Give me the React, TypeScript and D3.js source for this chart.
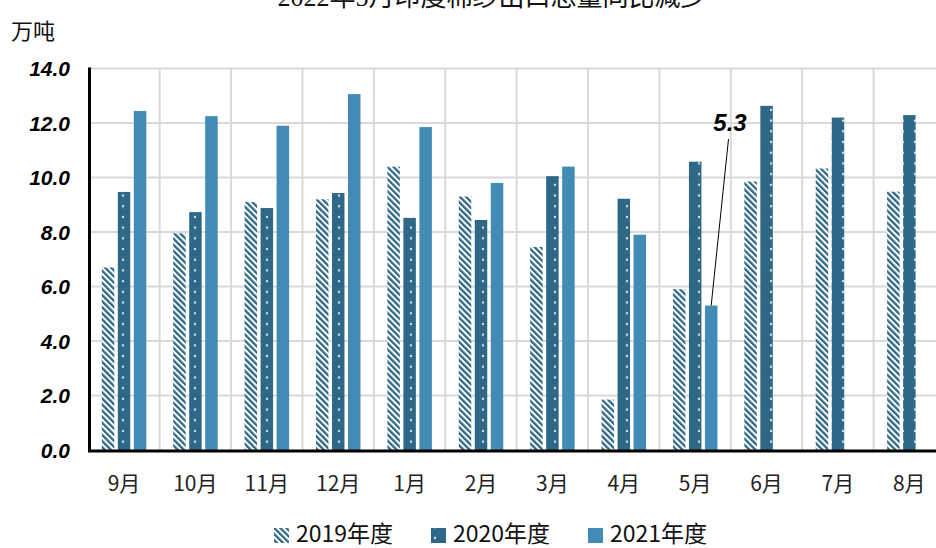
import React from "react";
import * as d3 from "d3";

const months = ["9月", "10月", "11月", "12月", "1月", "2月", "3月", "4月", "5月", "6月", "7月", "8月"];
const seriesNames = ["2019年度", "2020年度", "2021年度"];
const v2019 = [6.7, 7.95, 9.1, 9.2, 10.4, 9.3, 7.45, 1.85, 5.9, 9.85, 10.33, 9.48];
const v2020 = [9.47, 8.73, 8.88, 9.43, 8.52, 8.44, 10.05, 9.22, 10.58, 12.63, 12.2, 12.29];
const v2021: (number | null)[] = [12.44, 12.25, 11.9, 13.06, 11.85, 9.8, 10.4, 7.9, 5.3, null, null, null];
const yTicks = [0, 2, 4, 6, 8, 10, 12, 14];

const W = 936;
const H = 548;
const C2020 = "#2f6887";
const C2021 = "#428bb4";

export default function App() {
  const x = d3.scaleBand<string>().domain(months).range([88.3, 945]);
  const inner = d3
    .scaleBand<string>()
    .domain(seriesNames)
    .range([13.5, 58])
    .paddingInner(0.22);
  const y = d3.scaleLinear().domain([0, 14]).range([450, 68.5]);

  const fills = ["url(#hatch)", "url(#dots)", C2021];
  const all = [v2019, v2020, v2021];

  const labelIdx = 8;
  const lblX = (x(months[labelIdx]) ?? 0) + (inner(seriesNames[2]) ?? 0) + inner.bandwidth() / 2;

  return (
    <svg
      width={W}
      height={H}
      style={{ position: "absolute", left: 0, top: 0, background: "#fff" }}
    >
      <defs>
        <pattern id="hatch" patternUnits="userSpaceOnUse" width={4.3} height={4.3} patternTransform="rotate(-45)">
          <rect width={4.3} height={4.3} fill="#fff" />
          <rect width={2.3} height={4.3} fill={C2020} />
        </pattern>
        <pattern id="dots" patternUnits="userSpaceOnUse" width={12} height={10.7}>
          <rect width={12} height={10.7} fill={C2020} />
          <circle cx={3} cy={3} r={1.2} fill="#d5e2ea" />
        </pattern>
      </defs>

      <text
        x={492}
        y={6}
        textAnchor="middle"
        style={{ fontFamily: "'Liberation Serif', 'Noto Sans CJK SC', serif", fontSize: 26, fill: "#111" }}
      >
        2022年5月印度棉纱出口总量同比减少
      </text>

      <text
        x={11}
        y={39}
        style={{ fontFamily: "'Noto Sans CJK SC', sans-serif", fontSize: 22, fill: "#111" }}
      >
        万吨
      </text>

      {/* grid */}
      <g stroke="#d9d9d9" strokeWidth={2}>
        {yTicks.slice(1).map((t) => (
          <line key={t} x1={88} x2={W} y1={y(t)} y2={y(t)} />
        ))}
        {months.slice(1).map((m) => (
          <line key={m} x1={x(m)} x2={x(m)} y1={y(14)} y2={y(0)} />
        ))}
      </g>

      {/* bars */}
      {all.map((vals, si) => (
        <g key={si}>
          {vals.map((v, i) =>
            v == null ? null : (
              <rect
                key={i}
                x={(x(months[i]) ?? 0) + (inner(seriesNames[si]) ?? 0)}
                y={y(v)}
                width={inner.bandwidth()}
                height={y(0) - y(v)}
                fill={fills[si]}
              />
            )
          )}
        </g>
      ))}

      {/* axes */}
      <line x1={89.5} x2={89.5} y1={y(14) - 1} y2={y(0) + 2} stroke="#000" strokeWidth={3} />
      <line x1={88} x2={W} y1={451} y2={451} stroke="#000" strokeWidth={3} />

      {yTicks.map((t) => (
        <text
          key={t}
          x={70}
          y={y(t)}
          dy="0.36em"
          textAnchor="end"
          style={{
            fontFamily: "'Liberation Sans', Arial, sans-serif",
            fontSize: 21,
            fontWeight: "bold",
            fontStyle: "italic",
            fill: "#000",
          }}
        >
          {d3.format(".1f")(t)}
        </text>
      ))}

      {months.map((m) => (
        <text
          key={m}
          x={(x(m) ?? 0) + x.bandwidth() / 2}
          y={491}
          textAnchor="middle"
          style={{ fontFamily: "'Noto Sans CJK SC', sans-serif", fontSize: 21, fill: "#222" }}
        >
          {m}
        </text>
      ))}

      {/* annotation */}
      <line x1={728.5} y1={139} x2={lblX} y2={y(v2021[labelIdx] as number)} stroke="#000" strokeWidth={1} />
      <text
        x={730}
        y={131}
        textAnchor="middle"
        style={{
          fontFamily: "'Liberation Sans', Arial, sans-serif",
          fontSize: 24,
          fontWeight: "bold",
          fontStyle: "italic",
          fill: "#000",
        }}
      >
        {d3.format(".1f")(v2021[labelIdx] as number)}
      </text>

      {/* legend */}
      {seriesNames.map((s, i) => {
        const lx = [274, 431, 588][i];
        return (
          <g key={s}>
            <rect x={lx} y={528} width={15} height={15} fill={fills[i]} />
            <text
              x={lx + 22}
              y={542}
              style={{ fontFamily: "'Noto Sans CJK SC', sans-serif", fontSize: 23, fill: "#111" }}
            >
              {s}
            </text>
          </g>
        );
      })}
    </svg>
  );
}
